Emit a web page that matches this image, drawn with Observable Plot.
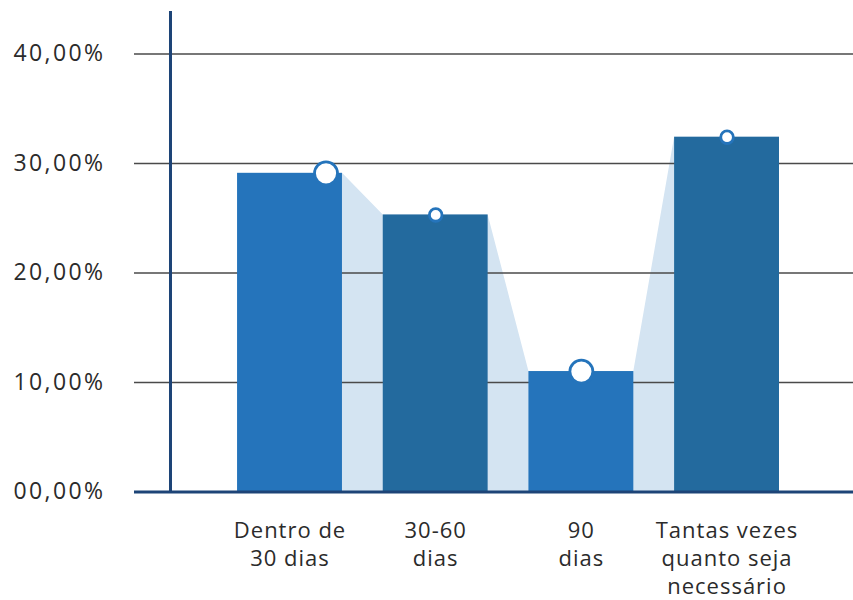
<!DOCTYPE html>
<html><head><meta charset="utf-8">
<script src="https://cdn.jsdelivr.net/npm/d3@7"></script>
<script src="https://cdn.jsdelivr.net/npm/@observablehq/plot@0.6"></script>
<style>
body{margin:0;background:#fff}
#chart g[aria-label="y-axis tick label"] text{letter-spacing:2.4px}
#chart g[aria-label="text"] text{letter-spacing:1px}
</style>
</head><body><div id="chart"></div>
<script>
const categories = ["Dentro de\n30 dias", "30-60\ndias", "90\ndias", "Tantas vezes\nquanto seja\nnecessário"];
const values = [29.1, 25.3, 11.0, 32.4];
const yTicks = [0, 10, 20, 30, 40];
const yTickLabels = ["00,00%", "10,00%", "20,00%", "30,00%", "40,00%"];
const barColors = ["#2574bb", "#236a9e", "#2574bb", "#236a9e"];

const half = 0.36;
const bars = categories.map((c, i) => ({i, c, v: values[i], color: barColors[i]}));
const band = bars.flatMap(d => [{x: d.i - half, y: d.v}, {x: d.i + half, y: d.v}]);
const yTop = 43.88;
const dotStyle = {fill: "white", stroke: "#2574bb", strokeWidth: 2.8};

const chart = Plot.plot({
  width: 853, height: 600,
  marginLeft: 134, marginRight: 0, marginTop: 11, marginBottom: 108.5,
  x: {domain: [-1.0675, 3.868], axis: null},
  y: {domain: [0, yTop], axis: null},
  style: {fontFamily: "'Open Sans', sans-serif", fontSize: "23px", color: "#2b2b2b", background: "#fff"},
  marks: [
    Plot.areaY(band, {x: "x", y: "y", fill: "#d4e4f2", curve: "linear"}),
    Plot.ruleY(yTicks.filter(t => t > 0), {stroke: "#4a4a4a", strokeWidth: 1.3}),
    Plot.rectY(bars, {x1: d => d.i - half, x2: d => d.i + half, y1: 0, y2: "v", fill: "color"}),
    Plot.ruleY([0], {stroke: "#1d4477", strokeWidth: 3}),
    Plot.ruleX([-0.8204], {y1: 0, y2: yTop, stroke: "#1d4477", strokeWidth: 3}),
    Plot.axisY({ticks: yTicks, tickFormat: d => yTickLabels[yTicks.indexOf(d)], tickSize: 0, tickPadding: 29, fontSize: 23, fill: "#2b2b2b"}),
    Plot.dot(bars.filter(d => d.i === 0), {x: "i", y: "v", r: 11.5, dx: 36, ...dotStyle}),
    Plot.dot(bars.filter(d => d.i === 2), {x: "i", y: "v", r: 11.5, ...dotStyle}),
    Plot.dot(bars.filter(d => d.i % 2 === 1), {x: "i", y: "v", r: 6.3, ...dotStyle}),
    Plot.text(bars, {x: "i", y: 0, text: "c", dy: 26, lineAnchor: "top", lineHeight: 1.27, fontSize: 22, fill: "#2b2b2b"})
  ]
});
document.getElementById("chart").append(chart);
</script>
</body></html>
